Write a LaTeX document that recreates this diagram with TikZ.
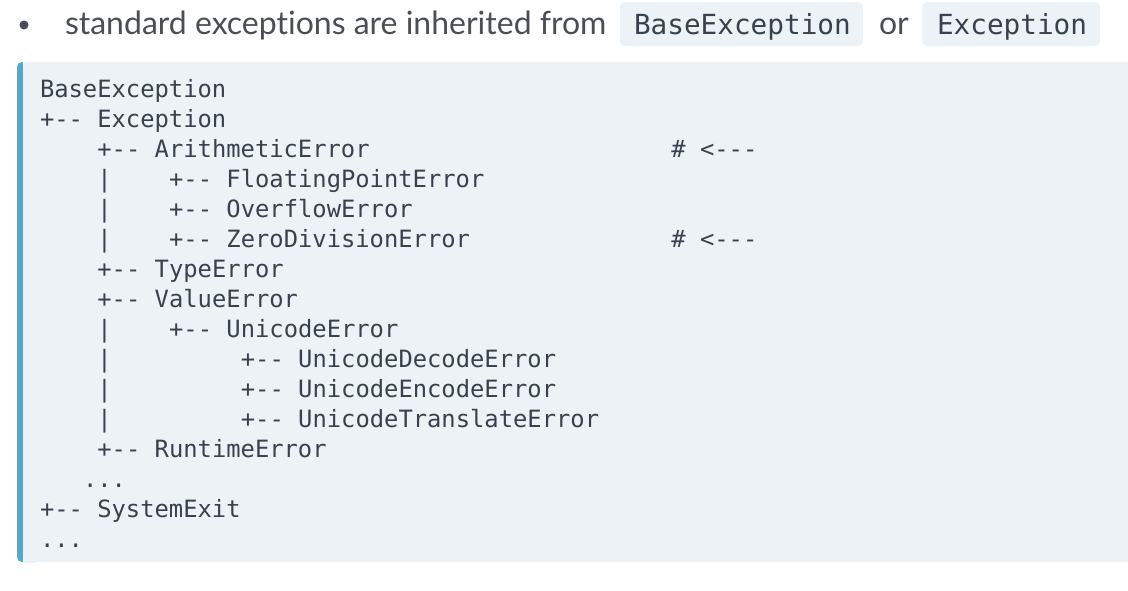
\documentclass[tikz,border=0pt]{standalone}
\usepackage{fontspec}
\setmainfont{Lato}[Ligatures={TeX,NoCommon}]
\setmonofont{DejaVu Sans Mono}
\definecolor{bodytext}{HTML}{4A4F56}
\definecolor{codetext}{HTML}{3A414E}
\definecolor{codebg}{HTML}{ECF2F6}
\definecolor{barblue}{HTML}{56A8C8}
\tikzset{
  x=1pt, y=-1pt,
  codeline/.style={anchor=base west, inner sep=0pt, outer sep=0pt, text=codetext,
    font=\ttfamily\fontsize{23.8}{24}\selectfont},
  inlinecode/.style={anchor=base west, inner sep=0pt, outer sep=0pt, text=codetext,
    font=\ttfamily\fontsize{27.7}{28}\selectfont},
  bodyline/.style={anchor=base west, inner sep=0pt, outer sep=0pt, text=bodytext,
    font=\fontsize{32}{32}\selectfont},
  chipbox/.style={fill=codebg, rounded corners=6pt},
}
\newcommand{\cw}{14.35}
\begin{document}
\begin{tikzpicture}
\useasboundingbox (0,0) rectangle (1128,590);
\fill[white] (0,0) rectangle (1128,590);
% bullet line
\fill[bodytext] (24,25) circle (4.5);
\node[bodyline] (lead) at (65,34) {standard exceptions are inherited from};
\fill[chipbox] (620,2) rectangle (863,46);
\node[inlinecode] (c1) at (634,34) {BaseException};
\node[bodyline] (orword) at (879,34) {or};
\fill[chipbox] (922,2) rectangle (1100,46);
\node[inlinecode] (c2) at (937,34) {Exception};
% code block
\fill[barblue, rounded corners=5pt] (17,62) rectangle (40,562);
\fill[codebg] (23,62) rectangle (1128,562);
% lines
\foreach \r/\c/\t [count=\i] in {
  0/0/{BaseException},
  1/0/{+-- Exception},
  2/4/{+-- ArithmeticError},
  2/44/{\# <---},
  3/4/{|}, 3/9/{+-- FloatingPointError},
  4/4/{|}, 4/9/{+-- OverflowError},
  5/4/{|}, 5/9/{+-- ZeroDivisionError},
  5/44/{\# <---},
  6/4/{+-- TypeError},
  7/4/{+-- ValueError},
  8/4/{|}, 8/9/{+-- UnicodeError},
  9/4/{|}, 9/14/{+-- UnicodeDecodeError},
  10/4/{|}, 10/14/{+-- UnicodeEncodeError},
  11/4/{|}, 11/14/{+-- UnicodeTranslateError},
  12/4/{+-- RuntimeError},
  13/3/{...},
  14/0/{+-- SystemExit},
  15/0/{...}}
{
  \node[codeline] (line\i) at ({40+\c*\cw},{97+30*\r}) {\t};
}
\end{tikzpicture}
\end{document}
